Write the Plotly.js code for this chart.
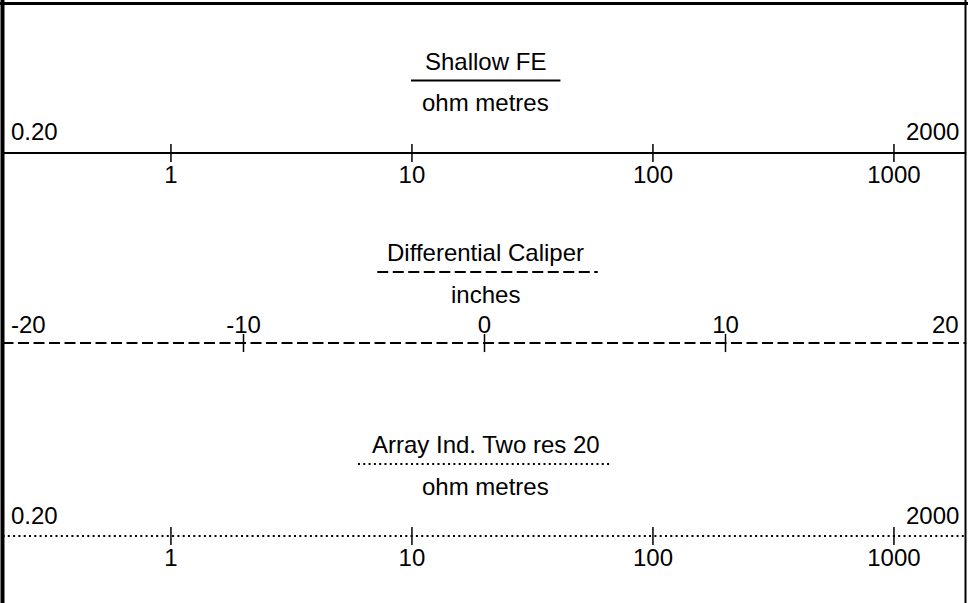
<!DOCTYPE html>
<html>
<head>
<meta charset="utf-8">
<script src="https://cdn.plot.ly/plotly-3.0.1.min.js"></script>
<style>html,body{margin:0;padding:0;background:#fff;}#chart{width:968px;height:603px;}</style>
</head>
<body>
<div id="chart"></div>
<script>
// ---- data ----
const trackNames = ["Shallow FE", "Differential Caliper", "Array Ind. Two res 20"];
const trackUnits = ["ohm metres", "inches", "ohm metres"];
const trackMin = [0.2, -20, 0.2];
const trackMax = [2000, 20, 2000];
const trackMinLabel = ["0.20", "-20", "0.20"];
const trackMaxLabel = ["2000", "20", "2000"];
const logTickVals = [1, 10, 100, 1000];
const logTickText = ["1", "10", "100", "1000"];
const linTickVals = [-10, 0, 10];
const linTickText = ["-10", "0", "10"];

// ---- layout settings ----
const W = 968, H = 603;
const FONT = "Liberation Sans, Arial, sans-serif";
const FS = 24;
const lineY = [153, 343, 536];
const titleY = [61, 252, 444];
const underY = [80.5, 272, 464];
const unitY = [102, 294, 486];
const endShift = [6, 3, 5];
const underX = [[-3.05, 3.15], [-4.45, 4.7], [-5.25, 5.3]];
const dashes = ["solid", "11px,4.5px", "2px,3.3px"];
const axisIds = ["x", "x2", "x3"];
const tickVals = [logTickVals, linTickVals, logTickVals];
const tickText = [logTickText, linTickText, logTickText];
const domain = [2.5 / W, 966.5 / W];

const traces = [];
const annotations = [];
const shapes = [];

for (let i = 0; i < 3; i++) {
  traces.push({
    type: "scatter", mode: "lines", xaxis: axisIds[i], yaxis: "y",
    x: [trackMin[i], trackMax[i]], y: [lineY[i], lineY[i]],
    line: {color: "#000", width: 2, dash: dashes[i]}, hoverinfo: "skip", showlegend: false
  });
  traces.push({
    type: "scatter", mode: "markers", xaxis: axisIds[i], yaxis: "y",
    x: tickVals[i], y: tickVals[i].map(() => lineY[i]),
    marker: {symbol: "line-ns-open", size: 13, color: "#000", line: {color: "#000", width: 1.5}},
    hoverinfo: "skip", showlegend: false
  });
  annotations.push({
    xref: axisIds[i], yref: "y", x: i === 1 ? trackMin[i] : Math.log10(trackMin[i]), y: lineY[i],
    text: trackMinLabel[i], showarrow: false, xanchor: "left", yanchor: "bottom",
    xshift: 6, yshift: endShift[i], font: {family: FONT, size: FS, color: "#000"}
  });
  annotations.push({
    xref: axisIds[i], yref: "y", x: i === 1 ? trackMax[i] : Math.log10(trackMax[i]), y: lineY[i],
    text: trackMaxLabel[i], showarrow: false, xanchor: "right", yanchor: "bottom",
    xshift: -6, yshift: endShift[i], font: {family: FONT, size: FS, color: "#000"}
  });
  annotations.push({
    xref: "x2", yref: "y", x: 0.05, y: titleY[i], text: trackNames[i], showarrow: false,
    xanchor: "center", yanchor: "middle", font: {family: FONT, size: FS, color: "#000"}
  });
  annotations.push({
    xref: "x2", yref: "y", x: 0.05, y: unitY[i], text: trackUnits[i], showarrow: false,
    xanchor: "center", yanchor: "middle", font: {family: FONT, size: FS, color: "#000"}
  });
  shapes.push({
    type: "line", xref: "x2", yref: "y", x0: underX[i][0], x1: underX[i][1], y0: underY[i], y1: underY[i],
    line: {color: "#000", width: 2, dash: dashes[i]}
  });
}

// frame
shapes.push({type: "line", xref: "paper", yref: "paper", x0: 0, x1: 1, y0: 1 - 3.5 / H, y1: 1 - 3.5 / H, line: {color: "#000", width: 3}});
shapes.push({type: "line", xref: "paper", yref: "paper", x0: 2.5 / W, x1: 2.5 / W, y0: 0, y1: 1, line: {color: "#000", width: 4}});
shapes.push({type: "line", xref: "paper", yref: "paper", x0: 965.5 / W, x1: 965.5 / W, y0: 0, y1: 1, line: {color: "#000", width: 2}});

function xAxis(i, extra) {
  return Object.assign({
    domain: domain, anchor: "free", position: 1 - lineY[i] / H,
    showgrid: false, zeroline: false, showline: false, ticks: "",
    tickmode: "array", tickvals: tickVals[i], ticktext: tickText[i],
    tickfont: {family: FONT, size: FS, color: "#000"}, fixedrange: true
  }, extra);
}

const layout = {
  width: W, height: H, margin: {l: 0, r: 0, t: 0, b: 0},
  paper_bgcolor: "#fff", plot_bgcolor: "#fff", showlegend: false,
  xaxis: xAxis(0, {type: "log", range: [Math.log10(trackMin[0]), Math.log10(trackMax[0])], side: "bottom", ticklabelstandoff: 5}),
  xaxis2: xAxis(1, {type: "linear", range: [trackMin[1], trackMax[1]], side: "top", overlaying: "x", ticklabelstandoff: 5}),
  xaxis3: xAxis(2, {type: "log", range: [Math.log10(trackMin[2]), Math.log10(trackMax[2])], side: "bottom", overlaying: "x", ticklabelstandoff: 5}),
  yaxis: {range: [H, 0], domain: [0, 1], visible: false, fixedrange: true},
  annotations: annotations, shapes: shapes
};

Plotly.newPlot("chart", traces, layout, {displayModeBar: false, staticPlot: true});
</script>
</body>
</html>
